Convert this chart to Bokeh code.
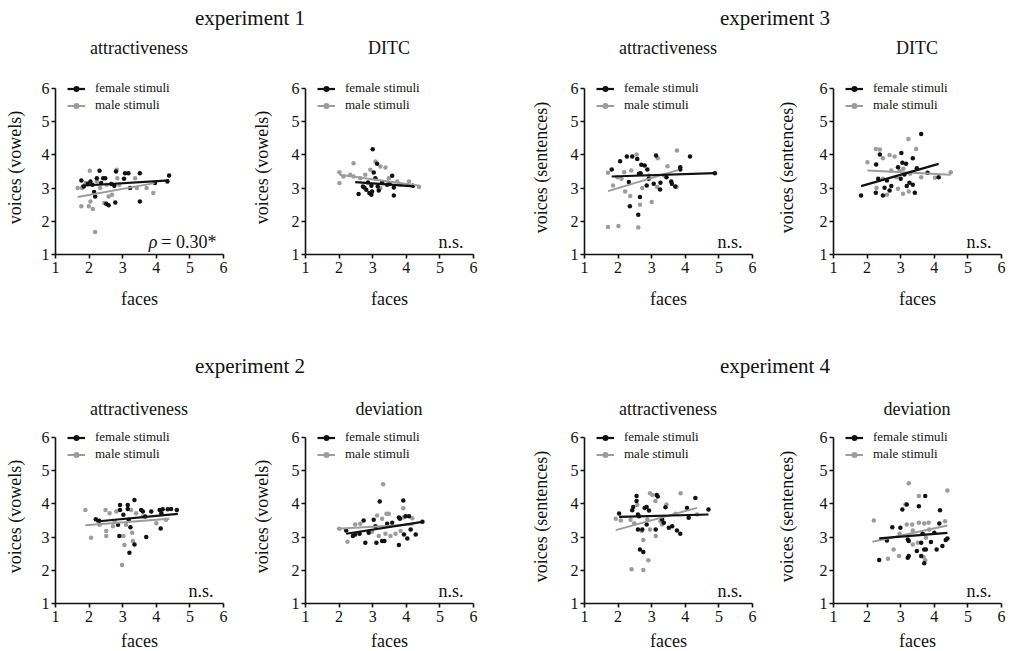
from bokeh.plotting import figure
from bokeh.layouts import column, row
from bokeh.models import Div, Spacer, Legend, LegendItem, Label, FixedTicker, Range1d
from bokeh.embed import file_html
from bokeh.resources import INLINE

FONT = "serif"
BLACK = "#111111"
GRAY = "#9c9c9c"

TICKS = [1, 2, 3, 4, 5, 6]
SERIES = ["female stimuli", "male stimuli"]

# ---------------- experiment 1: attractiveness (vowels) ----------------
p1_female = [(1.77, 3.23), (1.84, 3.05), (1.96, 3.13), (2.04, 3.20), (2.10, 3.10), (2.15, 2.88),
             (2.18, 2.75), (2.23, 3.30), (2.31, 3.52), (2.36, 3.15), (2.42, 3.30), (2.48, 3.30),
             (2.51, 2.53), (2.58, 2.48), (2.66, 3.12), (2.75, 3.07), (2.78, 2.57), (2.80, 3.50),
             (3.04, 3.28), (3.07, 3.45), (3.17, 3.45), (3.22, 3.00), (3.51, 3.45), (3.51, 2.60),
             (3.96, 3.15), (4.33, 3.20), (4.38, 3.38)]
p1_male = [(1.66, 3.00), (1.77, 2.45), (1.79, 3.00), (1.89, 3.15), (1.99, 2.45), (2.02, 3.52),
           (2.04, 2.60), (2.11, 2.37), (2.18, 1.68), (2.23, 3.20), (2.33, 3.00), (2.45, 2.55),
           (2.52, 3.10), (2.58, 2.75), (2.68, 2.80), (2.82, 3.55), (2.84, 3.30), (2.90, 3.10),
           (3.37, 3.30), (3.42, 3.00), (3.71, 3.00), (3.91, 2.85)]
p1_fit_female = [(1.77, 3.07), (4.38, 3.23)]
p1_fit_male = [(1.66, 2.73), (3.95, 3.15)]

# ---------------- experiment 1: DITC (vowels) ----------------
p2_female = [(2.58, 2.82), (2.71, 3.05), (2.75, 3.02), (2.81, 2.95), (2.86, 3.17), (2.90, 2.85),
             (2.96, 2.80), (2.96, 3.07), (2.98, 2.90), (3.00, 4.17), (3.03, 3.47), (3.08, 3.30),
             (3.13, 3.73), (3.15, 3.05), (3.18, 2.93), (3.28, 3.17), (3.43, 3.10), (3.50, 3.12),
             (3.58, 3.37), (3.63, 2.78), (3.63, 3.02), (4.20, 3.07)]
p2_male = [(2.01, 3.48), (2.01, 3.15), (2.13, 3.35), (2.33, 3.40), (2.43, 3.75), (2.43, 3.35),
           (2.63, 3.30), (2.78, 3.40), (2.93, 3.55), (3.08, 3.80), (3.23, 3.65), (3.23, 3.00),
           (3.38, 3.62), (3.48, 3.30), (3.73, 3.20), (3.83, 3.10), (4.08, 3.20), (4.38, 3.03)]
p2_fit_female = [(2.48, 3.18), (4.23, 3.05)]
p2_fit_male = [(2.01, 3.40), (4.40, 3.07)]

# ---------------- experiment 3: attractiveness (sentences) ----------------
p3_female = [(1.81, 3.56), (2.06, 3.81), (2.26, 3.95), (2.42, 3.95), (2.57, 3.88), (2.69, 3.70),
             (2.79, 3.68), (2.67, 3.45), (2.87, 3.56), (3.13, 3.98), (2.91, 3.28), (2.85, 3.08),
             (3.06, 3.13), (3.25, 2.96), (3.26, 3.16), (3.44, 3.33), (3.58, 3.20), (3.60, 3.13),
             (3.70, 3.05), (3.85, 3.63), (3.85, 3.56), (4.14, 3.95), (2.32, 3.18), (2.65, 2.73),
             (2.35, 2.45), (2.60, 2.20), (4.88, 3.45), (2.62, 3.43)]
p3_male = [(1.70, 3.46), (1.70, 1.83), (2.01, 1.86), (2.60, 1.81), (1.85, 3.08), (1.98, 3.33),
           (2.21, 2.90), (2.36, 2.76), (2.65, 2.50), (3.00, 2.58), (2.55, 4.01), (3.18, 3.90),
           (3.75, 4.13), (3.47, 3.66), (2.39, 3.53), (2.18, 3.48), (2.72, 3.00), (3.16, 3.03),
           (3.36, 3.38), (3.74, 3.03), (2.10, 3.28), (2.92, 3.38)]
p3_fit_female = [(1.81, 3.35), (4.88, 3.45)]
p3_fit_male = [(1.70, 2.91), (3.80, 3.55)]

# ---------------- experiment 3: DITC (sentences) ----------------
p4_female = [(1.82, 2.78), (2.26, 2.86), (2.27, 3.71), (2.38, 4.01), (2.33, 3.28), (2.47, 2.78),
             (2.52, 3.01), (2.59, 3.23), (2.67, 2.93), (2.72, 3.06), (2.92, 3.63), (3.02, 4.06),
             (3.05, 3.76), (3.11, 3.41), (3.16, 3.73), (3.18, 3.06), (3.26, 3.16), (3.36, 3.90),
             (3.36, 3.10), (3.42, 2.86), (3.48, 3.60), (3.61, 4.63), (3.00, 3.28), (3.80, 3.46),
             (4.13, 3.33)]
p4_male = [(2.01, 3.78), (2.26, 4.18), (2.38, 4.16), (2.47, 3.90), (2.67, 4.00), (2.82, 3.95),
           (3.23, 4.48), (3.46, 4.18), (2.28, 3.00), (2.59, 2.80), (2.92, 2.98), (3.07, 2.83),
           (3.24, 2.90), (2.72, 3.53), (2.87, 3.33), (3.08, 3.58), (3.28, 3.43), (3.61, 3.33),
           (4.02, 3.31), (4.49, 3.48), (2.97, 3.53), (2.47, 3.28)]
p4_fit_female = [(1.82, 3.06), (4.13, 3.73)]
p4_fit_male = [(2.01, 3.53), (4.49, 3.40)]

# ---------------- experiment 2: attractiveness (vowels) ----------------
p5_female = [(2.20, 3.54), (2.30, 3.49), (2.86, 3.37), (2.92, 3.97), (2.92, 3.82), (2.90, 3.03),
             (3.02, 3.67), (3.15, 3.97), (3.15, 3.85), (3.18, 3.52), (3.23, 3.30), (3.35, 4.12),
             (3.35, 2.78), (3.20, 2.53), (3.55, 3.82), (3.60, 3.77), (3.70, 3.00), (3.85, 3.77),
             (4.10, 3.82), (4.15, 3.72), (4.13, 3.26), (4.19, 3.84), (4.34, 3.84), (4.44, 3.85),
             (4.61, 3.82), (3.67, 3.62)]
p5_male = [(1.89, 3.82), (2.06, 2.98), (2.49, 3.82), (2.51, 3.18), (2.51, 3.03), (2.61, 3.72),
           (2.31, 3.37), (2.71, 3.33), (2.98, 2.16), (3.05, 2.76), (3.02, 3.03), (3.10, 3.37),
           (3.30, 2.88), (3.28, 3.13), (3.25, 3.82), (3.40, 3.72), (3.60, 3.62), (4.00, 3.42),
           (4.29, 3.52), (2.81, 3.77), (2.76, 3.47)]
p5_fit_female = [(2.21, 3.47), (4.64, 3.70)]
p5_fit_male = [(1.89, 3.36), (4.39, 3.55)]

# ---------------- experiment 2: deviation (vowels) ----------------
p6_female = [(2.21, 3.20), (2.41, 3.03), (2.48, 3.08), (2.61, 3.10), (2.78, 2.83), (2.73, 3.50),
             (2.88, 3.13), (3.03, 3.52), (3.08, 3.33), (3.11, 2.83), (3.21, 4.07), (3.28, 2.88),
             (3.35, 2.88), (3.43, 3.40), (3.58, 3.43), (3.78, 3.59), (3.81, 3.55), (3.91, 4.10),
             (3.93, 3.08), (3.98, 3.63), (3.78, 2.76), (4.03, 2.96), (4.08, 3.63), (4.13, 3.23),
             (4.28, 3.08), (4.48, 3.46)]
p6_male = [(2.01, 3.25), (2.25, 2.86), (3.13, 3.65), (3.31, 4.59), (3.28, 3.55), (3.41, 3.70),
           (3.48, 3.70), (3.18, 3.03), (3.38, 3.10), (3.53, 3.03), (3.68, 3.10), (3.83, 3.18),
           (3.91, 3.87), (3.91, 3.59), (4.18, 3.57), (2.48, 3.38), (2.63, 3.40), (2.98, 3.16)]
p6_fit_female = [(2.21, 3.10), (4.48, 3.46)]
p6_fit_male = [(1.93, 3.25), (4.23, 3.38)]

# ---------------- experiment 4: attractiveness (sentences) ----------------
p7_female = [(2.03, 3.71), (2.42, 3.81), (2.45, 3.91), (2.55, 4.24), (2.55, 4.09), (2.59, 3.68),
             (2.62, 3.63), (2.79, 3.88), (2.85, 3.91), (2.92, 3.80), (2.59, 3.23), (2.72, 3.23),
             (2.85, 3.38), (3.15, 4.27), (3.18, 4.22), (3.12, 3.23), (3.31, 3.53), (3.36, 3.43),
             (3.41, 3.90), (3.51, 3.28), (3.61, 3.33), (3.75, 3.20), (3.85, 3.10), (4.05, 3.88),
             (4.10, 3.58), (4.30, 4.18), (4.69, 3.83), (2.65, 2.63), (2.75, 2.55)]
p7_male = [(1.93, 3.55), (2.40, 2.03), (2.75, 2.01), (2.90, 2.30), (2.75, 2.91), (2.70, 3.18),
           (3.12, 3.03), (2.95, 4.32), (3.02, 4.27), (3.11, 4.09), (3.44, 3.98), (3.86, 4.32),
           (2.57, 3.97), (2.37, 3.52), (2.48, 3.42), (2.87, 3.53), (2.95, 3.23), (3.26, 3.48),
           (3.31, 3.38), (3.71, 3.70), (4.35, 3.68), (2.08, 3.50)]
p7_fit_female = [(2.03, 3.61), (4.69, 3.68)]
p7_fit_male = [(1.93, 3.21), (4.35, 3.88)]

# ---------------- experiment 4: deviation (sentences) ----------------
p8_female = [(2.36, 2.31), (2.59, 2.90), (2.75, 3.30), (2.99, 3.28), (3.05, 3.83), (3.18, 3.98),
             (3.21, 2.93), (3.24, 2.88), (3.21, 2.38), (3.24, 2.43), (3.48, 2.58), (3.54, 3.93),
             (3.61, 2.43), (3.65, 3.10), (3.70, 2.63), (3.73, 4.24), (3.75, 2.63), (3.70, 2.21),
             (3.61, 2.83), (3.90, 2.85), (4.00, 3.13), (4.07, 2.63), (4.15, 3.41), (4.17, 3.81),
             (4.24, 2.73), (4.34, 2.91), (4.39, 2.96)]
p8_male = [(2.20, 3.50), (2.62, 2.35), (2.79, 2.63), (2.95, 2.43), (3.24, 4.62), (3.14, 3.98),
           (3.54, 4.24), (4.39, 4.40), (3.18, 3.38), (3.34, 3.38), (3.54, 3.43), (3.70, 3.41),
           (3.83, 3.43), (4.32, 3.48), (2.97, 3.10), (3.36, 3.20), (3.85, 3.23), (3.36, 2.78),
           (3.75, 2.98), (3.51, 2.83), (3.68, 2.40), (3.73, 2.30)]
p8_fit_female = [(2.36, 2.96), (4.39, 3.13)]
p8_fit_male = [(2.16, 2.86), (4.39, 3.35)]

experiment_titles = ["experiment 1", "experiment 3", "experiment 2", "experiment 4"]
subtitles = ["attractiveness", "DITC", "attractiveness", "DITC",
             "attractiveness", "deviation", "attractiveness", "deviation"]
ylabels = ["voices (vowels)", "voices (vowels)", "voices (sentences)", "voices (sentences)",
           "voices (vowels)", "voices (vowels)", "voices (sentences)", "voices (sentences)"]
notes = ["rho", "n.s.", "n.s.", "n.s.", "n.s.", "n.s.", "n.s.", "n.s."]
rho_text = "= 0.30*"


def xs(pts):
    return [p[0] for p in pts]


def ys(pts):
    return [p[1] for p in pts]


FW = 168
PX_PER_UNIT = 33.2
FH = 174
Y_END = 1 + FH / PX_PER_UNIT
LEFT_B = [55, 58, 58, 61]
RIGHT_B = [24, 53, 20, 9]
FIG_W = [LEFT_B[k] + FW + RIGHT_B[k] for k in range(4)]
YLAB_SO = [14, 17, 17, 20]
ROWS = [dict(bb=56, xso=13), dict(bb=48, xso=6)]


def make_panel(i, female, male, fit_f, fit_m):
    col = i % 4
    r = ROWS[0 if i < 4 else 1]
    p = figure(frame_width=FW, frame_height=FH,
               x_range=Range1d(1, 6), y_range=Range1d(1, Y_END),
               min_border_left=LEFT_B[col], min_border_right=RIGHT_B[col],
               min_border_top=0, min_border_bottom=r["bb"],
               output_backend="svg", toolbar_location=None)
    p.grid.visible = False
    p.outline_line_color = None
    p.background_fill_color = None
    p.border_fill_color = None
    for ax in (p.xaxis[0], p.yaxis[0]):
        ax.ticker = FixedTicker(ticks=TICKS)
        ax.bounds = (1, 6)
        ax.axis_line_width = 1.6
        ax.axis_line_color = BLACK
        ax.major_tick_line_color = BLACK
        ax.major_tick_line_width = 1.6
        ax.major_tick_in = 0
        ax.major_tick_out = 4
        ax.minor_tick_line_color = None
        ax.major_label_text_font = FONT
        ax.major_label_text_font_size = "16px"
        ax.major_label_text_color = BLACK
        ax.axis_label_text_font = FONT
        ax.axis_label_text_font_size = "18px"
        ax.axis_label_text_font_style = "normal"
        ax.axis_label_text_color = BLACK
    p.xaxis.axis_label = "faces"
    p.yaxis.axis_label = ylabels[i]
    p.xaxis.major_label_standoff = 3
    p.yaxis.major_label_standoff = 2
    p.xaxis.axis_label_standoff = r["xso"]
    p.yaxis.axis_label_standoff = YLAB_SO[col]

    ms = p.scatter(xs(male), ys(male), size=4.5, color=GRAY, line_color=None)
    fs = p.scatter(xs(female), ys(female), size=4.5, color=BLACK, line_color=None)
    ml = p.line(xs(fit_m), ys(fit_m), line_width=2, color=GRAY)
    fl = p.line(xs(fit_f), ys(fit_f), line_width=2.2, color=BLACK)

    legend = Legend(items=[LegendItem(label=SERIES[0], renderers=[fl, fs]),
                           LegendItem(label=SERIES[1], renderers=[ml, ms])],
                    location=(12, FH - 33), orientation="vertical",
                    margin=0, padding=0, spacing=1,
                    label_height=15, glyph_height=15, glyph_width=18,
                    label_standoff=10,
                    label_text_font=FONT, label_text_font_size="13px",
                    label_text_color=BLACK,
                    border_line_color=None, background_fill_alpha=0)
    p.add_layout(legend)

    if notes[i] == "rho":
        p.add_layout(Label(x=5.79, y=1.38, text=rho_text, text_align="right",
                           text_baseline="middle", text_font=FONT,
                           text_font_size="18px", text_color=BLACK))
        p.add_layout(Label(x=5.79, y=1.38, x_offset=-59, text="\u03c1", text_align="right",
                           text_baseline="middle", text_font=FONT, text_font_style="italic",
                           text_font_size="18px", text_color=BLACK))
    else:
        p.add_layout(Label(x=5.70, y=1.38, text=notes[i], text_align="right",
                           text_baseline="middle", text_font=FONT,
                           text_font_size="18px", text_color=BLACK))
    return p


def header(text, width, height, pad, size=21, indent=0, inner=None):
    inner = width if inner is None else inner
    html = ('<div style="width:%dpx;height:%dpx;box-sizing:border-box;padding-top:%dpx;'
            'margin-left:%dpx;text-align:center;font-family:\'Liberation Serif\',serif;'
            'font-size:%dpx;line-height:20px;color:#111111;white-space:nowrap;">%s</div>'
            % (inner, height, pad, indent, size, text))
    return Div(text=html, width=width, height=height, margin=0)


def subtitle_row(idx0, height, pad):
    return row(*[header(subtitles[idx0 + k], FIG_W[k], height, pad, size=18,
                        indent=LEFT_B[k], inner=FW) for k in range(4)], spacing=0)


data = [
    (p1_female, p1_male, p1_fit_female, p1_fit_male),
    (p2_female, p2_male, p2_fit_female, p2_fit_male),
    (p3_female, p3_male, p3_fit_female, p3_fit_male),
    (p4_female, p4_male, p4_fit_female, p4_fit_male),
    (p5_female, p5_male, p5_fit_female, p5_fit_male),
    (p6_female, p6_male, p6_fit_female, p6_fit_male),
    (p7_female, p7_male, p7_fit_female, p7_fit_male),
    (p8_female, p8_male, p8_fit_female, p8_fit_male),
]

figs = [make_panel(i, *d) for i, d in enumerate(data)]

h1 = row(header(experiment_titles[0], 500, 28, 8), Spacer(width=40, height=28),
         header(experiment_titles[1], 470, 28, 8), spacing=0)
s1 = subtitle_row(0, 52, 10)
h2 = row(header(experiment_titles[2], 500, 75, 45), Spacer(width=40, height=75),
         header(experiment_titles[3], 470, 75, 45), spacing=0)
s2 = subtitle_row(4, 43, 13)
layout = column(h1, s1, row(*figs[:4], spacing=0), h2, s2, row(*figs[4:], spacing=0), spacing=0)

open("out.html", "w").write(file_html(layout, INLINE))
